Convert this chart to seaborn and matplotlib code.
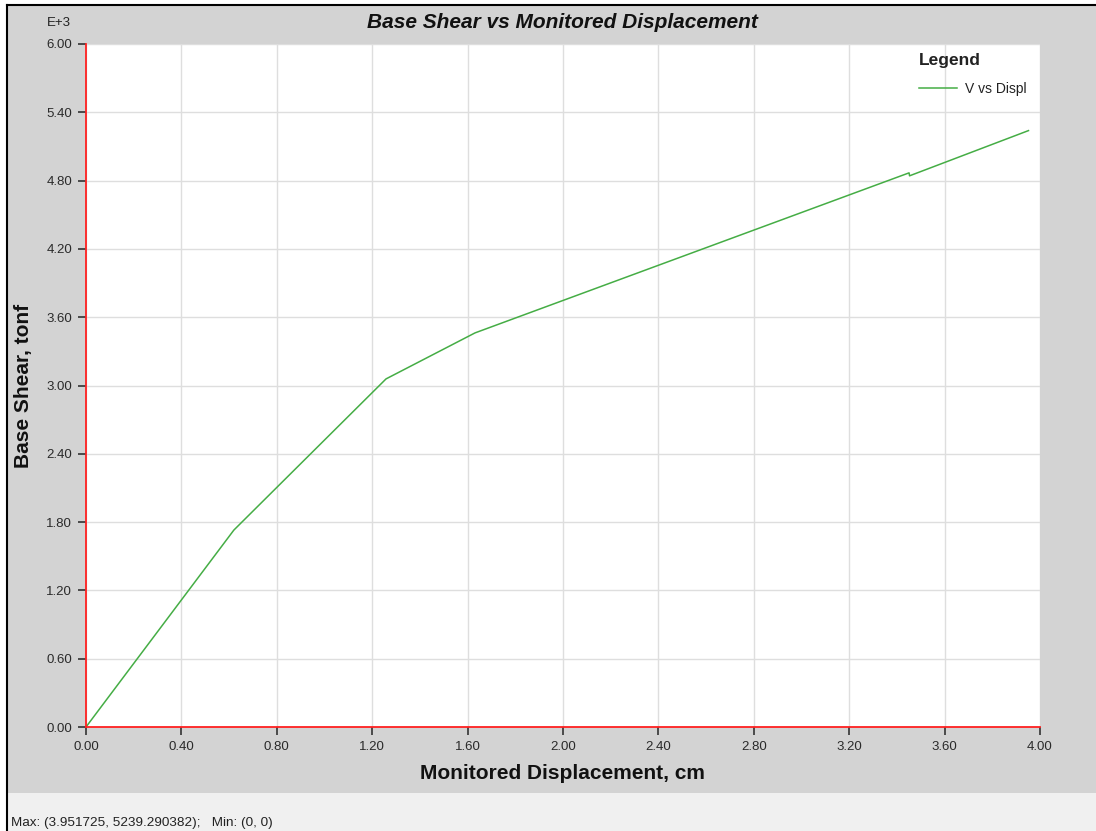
import matplotlib
matplotlib.use("Agg")
import matplotlib.pyplot as plt
import seaborn as sns
import pandas as pd
from matplotlib.ticker import FuncFormatter, FixedLocator
from matplotlib.patches import Rectangle
from matplotlib.lines import Line2D

# ---- data ----
displacement_cm = [0.0, 0.62, 1.258, 1.631, 3.451, 3.453, 3.951725]
base_shear_tonf = [0.0, 1730.0, 3058.0, 3462.0, 4868.0, 4842.0, 5239.290382]
x_ticks = [0.00, 0.40, 0.80, 1.20, 1.60, 2.00, 2.40, 2.80, 3.20, 3.60, 4.00]
y_ticks = [0, 600, 1200, 1800, 2400, 3000, 3600, 4200, 4800, 5400, 6000]
series_name = "V vs Displ"
title = "Base Shear vs Monitored Displacement"
xlabel = "Monitored Displacement, cm"
ylabel = "Base Shear, tonf"
status = "Max: (3.951725, 5239.290382);   Min: (0, 0)"

df = pd.DataFrame({"disp": displacement_cm, "shear": base_shear_tonf})

plt.rcParams["font.family"] = ["Liberation Sans", "DejaVu Sans"]

W, H = 1096, 831
fig = plt.figure(figsize=(W / 100, H / 100), dpi=100)
fig.patch.set_facecolor("white")

# background panels
fig.patches.append(Rectangle((7 / W, 0), 1 - 7 / W, 1 - 5 / H, transform=fig.transFigure,
                             facecolor="#D3D3D3", edgecolor="none", zorder=-10))
fig.patches.append(Rectangle((7 / W, 0), 1 - 7 / W, (831 - 793) / H, transform=fig.transFigure,
                             facecolor="#F0F0F0", edgecolor="none", zorder=-9))
fig.add_artist(Line2D([7 / W, 7 / W], [0, 1 - 5 / H], color="black", lw=1.5,
                      transform=fig.transFigure, zorder=-5))
fig.add_artist(Line2D([7 / W, 1], [1 - 5 / H, 1 - 5 / H], color="black", lw=1.5,
                      transform=fig.transFigure, zorder=-5))

ax = fig.add_axes([86 / W, 1 - 727 / H, (1040 - 86) / W, (727 - 44) / H])
ax.set_zorder(2)
ax.set_facecolor("white")

sns.lineplot(data=df, x="disp", y="shear", ax=ax, color="#45AD45", lw=1.1,
             label=series_name, sort=False, estimator=None)

ax.set_xlim(0, 4.0)
ax.set_ylim(0, 6000)
ax.xaxis.set_major_locator(FixedLocator(x_ticks))
ax.yaxis.set_major_locator(FixedLocator(y_ticks))
ax.xaxis.set_major_formatter(FuncFormatter(lambda v, p: f"{v:.2f}"))
ax.yaxis.set_major_formatter(FuncFormatter(lambda v, p: f"{v / 1000:.2f}"))

ax.grid(True, color="#DEDEDE", lw=1)
ax.set_axisbelow(True)
for s in ["top", "right"]:
    ax.spines[s].set_visible(False)
for s in ["left", "bottom"]:
    ax.spines[s].set_color("#FF2020")
    ax.spines[s].set_linewidth(1.3)
    ax.spines[s].set_zorder(5)

ax.tick_params(axis="both", direction="out", length=6, width=1.2, color="#333333",
               labelsize=9.5, labelcolor="#2a2a2a", pad=4)

ax.set_xlabel(xlabel, fontsize=15, fontweight="bold", color="#111111")
ax.set_ylabel(ylabel, fontsize=15, fontweight="bold", color="#111111")
ax.xaxis.set_label_coords((562 - 86) / 954, (727 - 764) / 683)
ax.yaxis.set_label_coords((33 - 86) / 954, 0.5)

leg = ax.legend(title="Legend", loc="upper right", frameon=False,
                bbox_to_anchor=(1039 / W, 1 - 41 / H), bbox_transform=fig.transFigure,
                fontsize=10, handlelength=2.75, handletextpad=0.58, labelspacing=0.95,
                alignment="left")
leg.get_title().set_fontweight("bold")
leg.get_title().set_fontsize(12.5)
leg.get_title().set_color("#222222")
for t in leg.get_texts():
    t.set_color("#222222")

fig.text(562 / W, 1 - 22 / H, title, ha="center", va="center", fontsize=15,
         fontweight="bold", fontstyle="italic", color="#111111")
fig.text(59 / W, 1 - 23 / H, "E+3", ha="center", va="center", fontsize=9.5, color="#222222")
fig.text(11 / W, 1 - 823 / H, status, ha="left", va="center", fontsize=9.7, color="#222222")

fig.savefig("out.png", dpi=100)
